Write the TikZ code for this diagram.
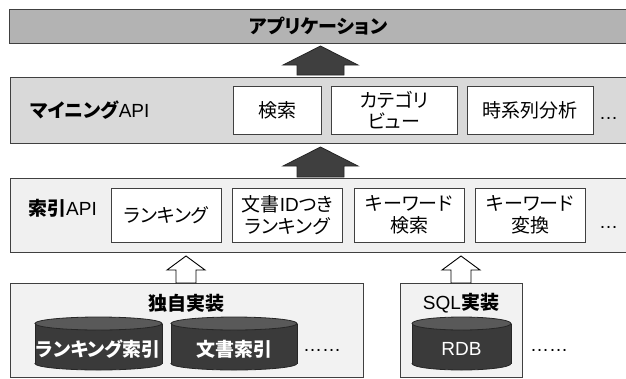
\documentclass[tikz,border=0pt]{standalone}
\usepackage{fontspec}
\setmainfont{Noto Sans CJK JP}[RawFeature={+palt}]
\newfontfamily\lat{Liberation Sans}
\usetikzlibrary{calc}
\definecolor{appfill}{HTML}{B3B3B3}
\definecolor{minefill}{HTML}{D9D9D9}
\definecolor{idxfill}{HTML}{F0F0F0}
\definecolor{botfill}{HTML}{F2F2F2}
\definecolor{edgec}{HTML}{404040}
\definecolor{darkfill}{HTML}{3F3F3F}
\definecolor{darkedge}{HTML}{262626}
\definecolor{cylbody}{HTML}{3A3A3A}
\definecolor{cyltop}{HTML}{595959}
\tikzset{
  sz/.style 2 args={minimum width=#1pt, minimum height=#2pt},
  panel/.style={draw=edgec, line width=0.9pt, inner sep=0pt, outer sep=0pt},
  ibox/.style={draw=edgec, fill=white, line width=0.9pt, inner sep=0pt, outer sep=0pt, align=center},
  darrow/.style={draw=darkedge, fill=darkfill, line width=0.8pt, line join=miter},
  harrow/.style={draw=black, fill=white, line width=0.9pt, line join=miter},
  cyledge/.style={draw=darkedge, line width=0.8pt},
  cyltext/.style={text=white, inner sep=0pt},
  lbl/.style={inner sep=0pt, anchor=west},
  dots/.style={inner sep=0pt, font=\lat\fontsize{19}{22}\selectfont},
}
\newcommand\blockarrow[6]{%
  \draw[#6] let \p1=(#1), \p2=(#2) in
    (\x1,\y1) -- (\x1+#4pt,\y1-#3pt) -- (\x1+#5pt,\y1-#3pt) -- (\x1+#5pt,\y2)
    -- (\x1-#5pt,\y2) -- (\x1-#5pt,\y1-#3pt) -- (\x1-#4pt,\y1-#3pt) -- cycle;
}
\newcommand\drawcyl[2]{% #1 cx, #2 rx
  \draw[cyledge, fill=cylbody] (#1,363.5) ellipse[x radius=#2, y radius=6.5];
  \fill[cylbody] (#1-#2,323.5) rectangle (#1+#2,363.5);
  \draw[cyledge] (#1-#2,323.5) -- (#1-#2,363.5);
  \draw[cyledge] (#1+#2,323.5) -- (#1+#2,363.5);
  \draw[cyledge, fill=cyltop] (#1,323.5) ellipse[x radius=#2, y radius=6.5];
}
\begin{document}
\begin{tikzpicture}[x=1pt,y=-1pt,font=\fontsize{19}{21.5}\selectfont]
\useasboundingbox (0,0) rectangle (626,378);
% layers
\node[panel, fill=appfill, sz={619}{34}, font=\bfseries\fontsize{19}{21.5}\selectfont] (app) at (318.5,26) {アプリケーション};
\node[panel, fill=minefill, sz={618}{66}] (mining) at (319,110) {};
\node[panel, fill=idxfill, sz={618}{74}] (index) at (319,215) {};
\node[panel, fill=botfill, sz={353}{94}] (dokuji) at (186.5,330) {};
\node[panel, fill=botfill, sz={122}{94}] (sql) at (461,330) {};
% mining API
\node[lbl] (mlabel) at (30,110) {{\bfseries マイニング}{\lat API}};
\node[ibox, sz={88}{48}] (m1) at (277,110) {検索};
\node[ibox, sz={126}{48}] (m2) at (394,110) {カテゴリ\\ビュー};
\node[ibox, sz={126}{48}] (m3) at (530,110) {時系列分析};
\node[dots] (mdots) at (608.5,118) {…};
% index API
\node[lbl] (ilabel) at (28,208) {{\bfseries 索引}{\lat API}};
\node[ibox, sz={110}{54}] (i1) at (166,215) {ランキング};
\node[ibox, sz={110}{54}] (i2) at (287.5,215) {文書{\lat ID}つき\\ランキング};
\node[ibox, sz={110}{54}] (i3) at (409,215) {キーワード\\検索};
\node[ibox, sz={110}{54}] (i4) at (530,215) {キーワード\\変換};
\node[dots] (idots) at (608.5,227) {…};
% implementations
\node[inner sep=0pt, font=\bfseries\fontsize{19}{21.5}\selectfont] (dtitle) at (186,303) {独自実装};
\node[inner sep=0pt] (stitle) at (461,303) {{\lat SQL}{\bfseries 実装}};
\drawcyl{98.5}{63.5}
\drawcyl{234}{63}
\drawcyl{461.5}{49.5}
\node[cyltext, font=\bfseries\fontsize{19}{21.5}\selectfont] (c1) at (98.5,349) {ランキング索引};
\node[cyltext, font=\bfseries\fontsize{19}{21.5}\selectfont] (c2) at (234,349) {文書索引};
\node[cyltext, font=\lat\fontsize{19}{21.5}\selectfont] (c3) at (461.5,349) {RDB};
\node[dots] (bdots1) at (322,350) {……};
\node[dots] (bdots2) at (549,350) {……};
% arrows
\coordinate (t1) at ($(app.south)+(2,3)$);
\coordinate (b1) at ($(mining.north)+(1.5,-2)$);
\blockarrow{t1}{b1}{19}{37.5}{23.5}{darrow}
\coordinate (t2) at ($(mining.south)+(1.5,4)$);
\coordinate (b2) at ($(index.north)+(1.5,-1)$);
\blockarrow{t2}{b2}{19}{37.5}{23.5}{darrow}
\coordinate (t3) at ($(dokuji.north)+(-0.5,-27)$);
\coordinate (b3) at ($(dokuji.north)+(-0.5,0)$);
\blockarrow{t3}{b3}{14}{19}{10}{harrow}
\coordinate (t4) at ($(sql.north)+(0,-27)$);
\blockarrow{t4}{sql.north}{14}{19}{10}{harrow}
\end{tikzpicture}
\end{document}
